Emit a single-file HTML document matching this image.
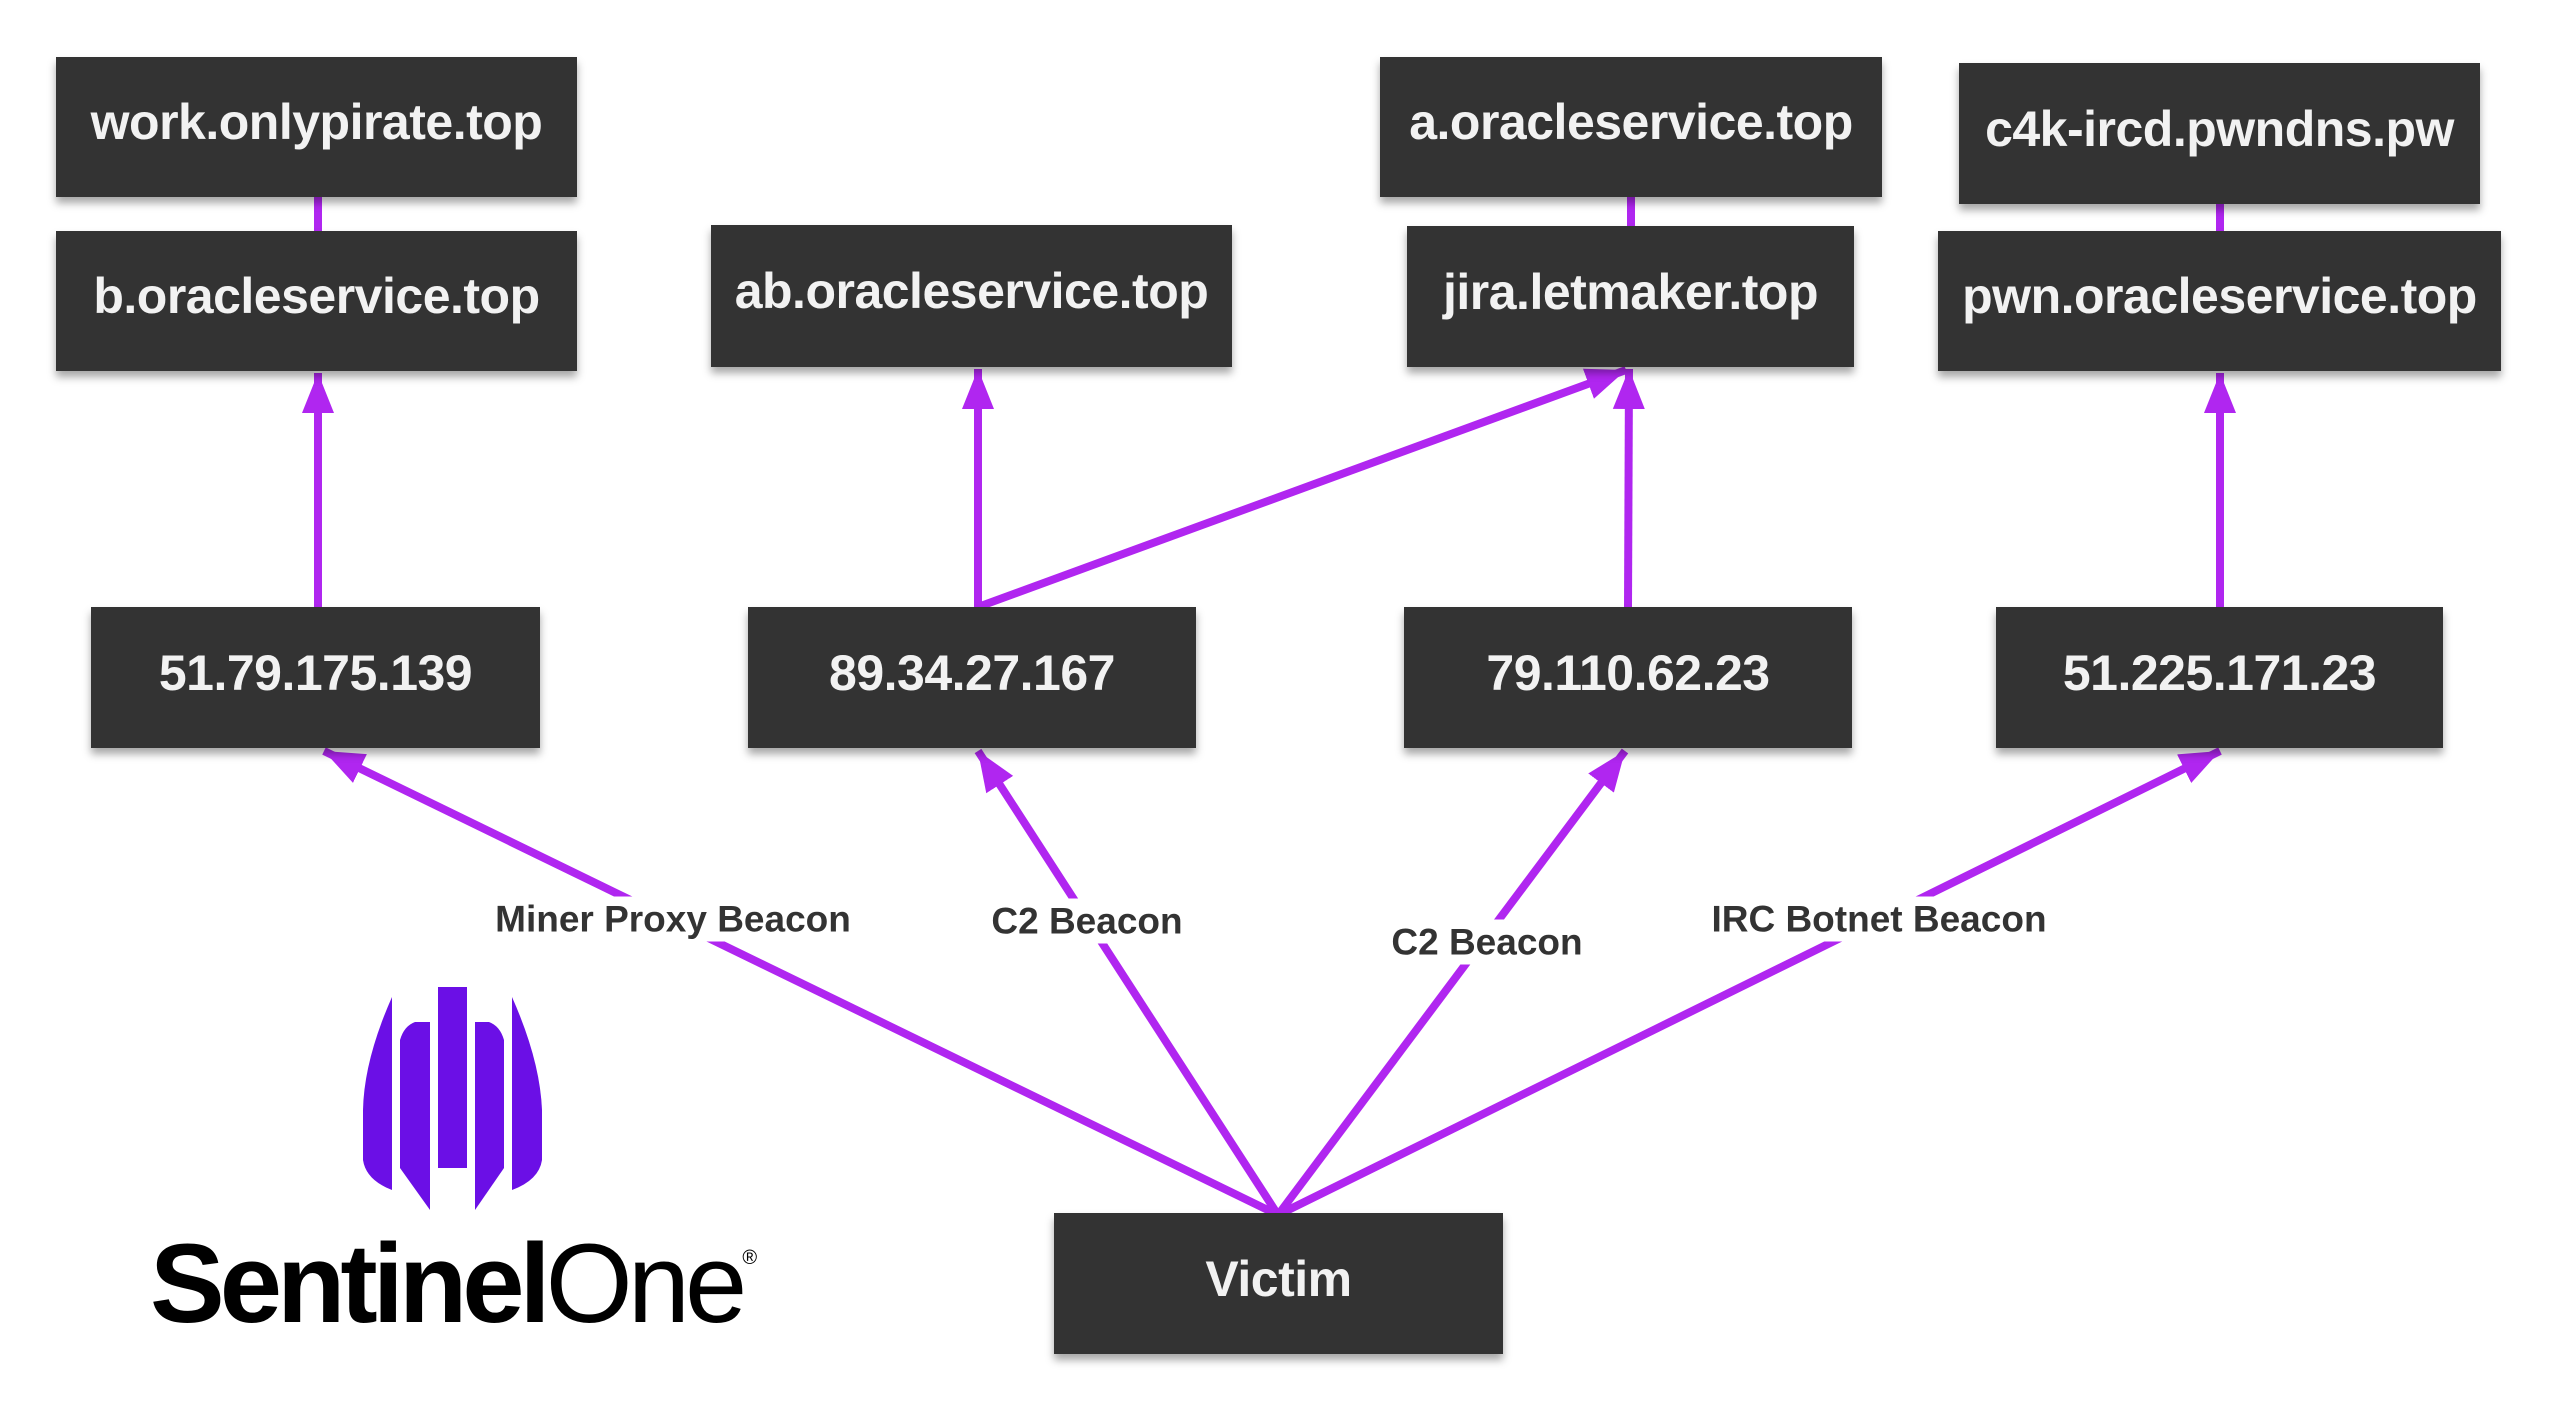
<!DOCTYPE html>
<html><head><meta charset="utf-8">
<style>
html,body{margin:0;padding:0;background:#fff;}
body{width:2560px;height:1411px;position:relative;overflow:hidden;font-family:"Liberation Sans",sans-serif;}
.b{position:absolute;background:#333;color:#f2f2f2;font-weight:bold;font-size:50px;letter-spacing:-0.5px;display:flex;align-items:center;justify-content:center;box-shadow:0 6px 8px rgba(0,0,0,0.35);padding-bottom:10px;box-sizing:border-box;white-space:nowrap;}
.l{position:absolute;background:#fff;color:#333;font-weight:bold;font-size:37px;white-space:nowrap;transform:translate(-50%,-50%);padding:4px 6px;line-height:1;}
svg{position:absolute;left:0;top:0;}
</style></head><body>
<svg width="2560" height="1411" viewBox="0 0 2560 1411">
<defs>
<marker id="a" markerWidth="5" markerHeight="5" refX="5" refY="2.5" orient="auto" markerUnits="strokeWidth">
<path d="M0,0.5 L5,2.5 L0,4.5 Z" fill="#b026f0"/>
</marker>
</defs>
<g stroke="#b026f0" stroke-width="8" fill="none">
<line x1="318" y1="197" x2="318" y2="232"/>
<line x1="1631" y1="197" x2="1631" y2="227"/>
<line x1="2220" y1="204" x2="2220" y2="232"/>
<line x1="318" y1="607" x2="318" y2="373" marker-end="url(#a)"/>
<line x1="978" y1="607" x2="978" y2="369" marker-end="url(#a)"/>
<line x1="978" y1="607" x2="1626" y2="370" marker-end="url(#a)"/>
<line x1="1628" y1="607" x2="1629" y2="369" marker-end="url(#a)"/>
<line x1="2220" y1="607" x2="2220" y2="373" marker-end="url(#a)"/>
<line x1="1278" y1="1215" x2="324" y2="751" marker-end="url(#a)"/>
<line x1="1278" y1="1215" x2="978" y2="751" marker-end="url(#a)"/>
<line x1="1278" y1="1215" x2="1625" y2="751" marker-end="url(#a)"/>
<line x1="1278" y1="1215" x2="2220" y2="751" marker-end="url(#a)"/>
</g>
<g fill="#6b0fe6">
<rect x="438" y="987" width="29" height="181"/>
<path d="M400,1040 Q404,1026 415,1022 L430,1022 L430,1210 L400,1168 Z"/>
<path d="M504,1040 Q500,1026 489,1022 L475,1022 L475,1210 L504,1168 Z"/>
<path d="M392,997 Q364,1060 363,1110 L363,1160 Q366,1180 392,1190 Z"/>
<path d="M512,997 Q540,1060 542,1110 L542,1160 Q539,1180 512,1190 Z"/>
</g>
</svg>
<div class="b" style="left:56px;top:57px;width:521px;height:140px;">work.onlypirate.top</div>
<div class="b" style="left:56px;top:231px;width:521px;height:140px;">b.oracleservice.top</div>
<div class="b" style="left:711px;top:225px;width:521px;height:142px;">ab.oracleservice.top</div>
<div class="b" style="left:1380px;top:57px;width:502px;height:140px;">a.oracleservice.top</div>
<div class="b" style="left:1407px;top:226px;width:447px;height:141px;">jira.letmaker.top</div>
<div class="b" style="left:1959px;top:63px;width:521px;height:141px;">c4k-ircd.pwndns.pw</div>
<div class="b" style="left:1938px;top:231px;width:563px;height:140px;">pwn.oracleservice.top</div>
<div class="b" style="left:91px;top:607px;width:449px;height:141px;">51.79.175.139</div>
<div class="b" style="left:748px;top:607px;width:448px;height:141px;">89.34.27.167</div>
<div class="b" style="left:1404px;top:607px;width:448px;height:141px;">79.110.62.23</div>
<div class="b" style="left:1996px;top:607px;width:447px;height:141px;">51.225.171.23</div>
<div class="b" style="left:1054px;top:1213px;width:449px;height:141px;">Victim</div>
<div class="l" style="left:673px;top:919px;">Miner Proxy Beacon</div>
<div class="l" style="left:1087px;top:921px;">C2 Beacon</div>
<div class="l" style="left:1487px;top:942px;">C2 Beacon</div>
<div class="l" style="left:1879px;top:919px;">IRC Botnet Beacon</div>
<div style="position:absolute;left:150px;top:1228px;font-size:112px;line-height:1;letter-spacing:-5px;color:#000;white-space:nowrap;"><span style="font-weight:bold;">Sentinel</span><span>One</span><span style="font-size:20px;vertical-align:top;position:relative;top:20px;letter-spacing:0;">®</span></div>
</body></html>
